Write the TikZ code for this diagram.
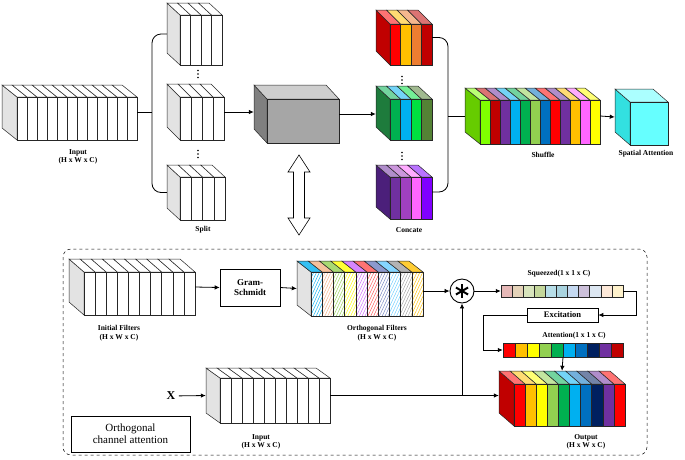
\documentclass[tikz,border=0pt]{standalone}
\usepackage{fontspec}
\setmainfont{Liberation Serif}
\usetikzlibrary{arrows.meta,shapes.arrows,patterns.meta,fit,calc}
\definecolor{cR}{HTML}{FF0000}\definecolor{cO}{HTML}{FFC000}\definecolor{cOr}{HTML}{ED7D31}
\definecolor{cDR}{HTML}{C00000}\definecolor{cG}{HTML}{00B050}\definecolor{cSky}{HTML}{00B0F0}
\definecolor{cBG}{HTML}{00E040}\definecolor{cOl}{HTML}{548235}\definecolor{cDG}{HTML}{1E7B3C}
\definecolor{cP}{HTML}{7030A0}\definecolor{cMP}{HTML}{A040C0}\definecolor{cPk}{HTML}{FF66FF}
\definecolor{cV}{HTML}{8000FF}\definecolor{cDP}{HTML}{4B1F7A}\definecolor{cLime}{HTML}{80FF00}
\definecolor{cLG}{HTML}{92D050}\definecolor{cB}{HTML}{0070C0}\definecolor{cY}{HTML}{FFFF00}
\definecolor{cNv}{HTML}{002060}\definecolor{cCy}{HTML}{66FFFF}\definecolor{cCyS}{HTML}{33E0E0}
\definecolor{cLimeS}{HTML}{66CC00}\definecolor{gbox}{HTML}{A6A6A6}\definecolor{gside}{HTML}{808080}
\definecolor{cSal}{HTML}{F4B183}\definecolor{cVi}{HTML}{CC66FF}\definecolor{cRd}{HTML}{FF5050}
\definecolor{cSl}{HTML}{6F7FC0}\definecolor{cLC}{HTML}{66CCFF}\definecolor{cGr}{HTML}{A0A0A0}
\definecolor{s1}{HTML}{E6B8B7}\definecolor{s2}{HTML}{E4D2B8}\definecolor{s3}{HTML}{D8E4BC}
\definecolor{s4}{HTML}{C4D79B}\definecolor{s5}{HTML}{B7DEE8}\definecolor{s6}{HTML}{A9D3DF}
\definecolor{s7}{HTML}{C5D9F1}\definecolor{s8}{HTML}{CCC0DA}\definecolor{s9}{HTML}{DCE6F1}
\definecolor{s10}{HTML}{FDE9D9}\definecolor{s11}{HTML}{FFF2CC}
% block: name, front-left x, front-top y, front width, height, dx, dy, side colour, colours
\newcommand\blk[9]{%
  \foreach \c [count=\k] in {#9} {\xdef\nn{\k}}%
  \pgfmathsetmacro\ww{#4/\nn}%
  \filldraw[fill=#8,edge] (#2,#3) -- (#2,#3+#5) -- (#2-#6,#3+#5-#7) -- (#2-#6,#3-#7) -- cycle;
  \foreach \c [count=\i from 0] in {#9} {%
    \pgfmathsetmacro\xx{#2+\i*\ww}%
    \filldraw[fill=\c!55!white,edge] (\xx,#3) -- (\xx+\ww,#3) -- (\xx+\ww-#6,#3-#7) -- (\xx-#6,#3-#7) -- cycle;
    \filldraw[fill=\c,edge] (\xx,#3) rectangle (\xx+\ww,#3+#5);
  }%
  \coordinate (#1-a) at (#2-#6,#3-#7); \coordinate (#1-b) at (#2+#4,#3+#5);
  \node[fit=(#1-a)(#1-b),inner sep=0pt] (#1) {};
}
\newcommand\hblk[9]{%
  \foreach \c [count=\k] in {#9} {\xdef\nn{\k}}%
  \pgfmathsetmacro\ww{#4/\nn}%
  \filldraw[fill=#8,edge] (#2,#3) -- (#2,#3+#5) -- (#2-#6,#3+#5-#7) -- (#2-#6,#3-#7) -- cycle;
  \foreach \c [count=\i from 0] in {#9} {%
    \pgfmathsetmacro\xx{#2+\i*\ww}%
    \filldraw[fill=\c!80!white,edge] (\xx,#3) -- (\xx+\ww,#3) -- (\xx+\ww-#6,#3-#7) -- (\xx-#6,#3-#7) -- cycle;
    \fill[white] (\xx,#3) rectangle (\xx+\ww,#3+#5);
    \fill[pattern={Lines[angle=65,distance=2.6pt,line width=0.45pt]},pattern color=\c] (\xx,#3) rectangle (\xx+\ww,#3+#5);
    \draw[edge] (\xx,#3) rectangle (\xx+\ww,#3+#5);
  }%
  \coordinate (#1-a) at (#2-#6,#3-#7); \coordinate (#1-b) at (#2+#4,#3+#5);
  \node[fit=(#1-a)(#1-b),inner sep=0pt] (#1) {};
}
\newcommand\vdts[1]{\foreach \d in {-3.5,0,3.5} \fill ($(#1)+(0,\d)$) circle (0.9pt);}
\begin{document}
\begin{tikzpicture}[x=1pt,y=-1pt,
  edge/.style={draw=black!85,line width=0.5pt},
  lab/.style={font=\fontsize{7.5}{8.5}\selectfont\bfseries,align=center,inner sep=0pt},
  arr/.style={-{Latex[length=5pt,width=4.5pt]},line width=0.8pt},
  ln/.style={line width=0.8pt}]
\useasboundingbox (0,0) rectangle (685,459);
% top row
\blk{inp}{17}{97}{120}{43}{15}{12}{gray!22}{white,white,white,white,white,white,white,white,white,white,white,white}
\blk{sp1}{180}{15}{42}{50}{13}{12}{gray!22}{white,white,white,white}
\blk{sp2}{180}{97}{44}{43}{13}{13}{gray!22}{white,white,white,white}
\blk{sp3}{180}{177}{45}{43}{13}{12}{gray!22}{white,white,white,white}
\blk{gb}{267}{99}{72}{44}{13}{14}{gside}{gbox}
\blk{cr}{390}{24}{42}{41}{14}{14}{cDR}{cR,cO,cOr,cDR}
\blk{cg}{390}{99}{42}{41}{14}{13}{cDG}{cG,cSky,cBG,cOl}
\blk{cp}{390}{177}{42}{42}{14}{12}{cDP}{cP,cMP,cPk,cV}
\blk{sh}{480}{100}{120}{44}{15}{12}{cLimeS}{cLime,cDR,cP,cSky,cG,cLG,cB,cR,cP,cO,cPk,cY}
\blk{sa}{630}{102}{38}{43}{15}{13}{cCyS}{cCy}
\coordinate (d1) at (198,74); \vdts{d1}
\coordinate (d2) at (198,154); \vdts{d2}
\coordinate (d3) at (402,80); \vdts{d3}
\coordinate (d4) at (402,156); \vdts{d4}
\coordinate (lb) at (152,112.5);
\draw[ln] (inp.east) -- (lb);
\draw[ln,rounded corners=9pt] (sp1.west) -| (lb) |- (sp3.west);
\draw[arr] (sp2.east) -- (sp2.east -| gb.west);
\draw[arr] (gb.east) -- (gb.east -| cg.west);
\coordinate (rb) at (448,116);
\draw[ln,rounded corners=9pt] (cr.east) -| (rb) |- (cp.east);
\draw[ln] (rb) -- (sh.west);
\draw[arr] (sh.east) -- (sa.west);
\node[lab] (l1) at (78,157) {Input\\(H x W x C)};
\node[lab] (l2) at (203,230) {Split};
\node[lab] (l3) at (409,230) {Concate};
\node[lab] (l4) at (543,155) {Shuffle};
\node[lab] (l5) at (646,154) {Spatial Attention};
\draw[line width=0.6pt,fill=white] (299,155) -- (310,172) -- (304.5,172) -- (304.5,218) -- (310,218) -- (299,235)
  -- (288,218) -- (293.5,218) -- (293.5,172) -- (288,172) -- cycle;
% bottom panel
\draw[dashed,rounded corners=8pt,line width=0.5pt] (63,249) rectangle (647,455);
\blk{ini}{84}{272}{111}{43}{15}{13}{gray!22}{white,white,white,white,white,white,white,white,white,white}
\node[draw,line width=0.6pt,minimum width=60pt,minimum height=37pt,inner sep=0pt,align=center,font=\fontsize{9}{10}\selectfont\bfseries] (gs) at (250,287.5) {Gram-\\Schmidt};
\hblk{orth}{311}{272}{112}{44}{14}{11}{gray!22}{cSky,cSal,cLG,cY,cVi,cRd,cSl,cLC,cGr,cO}
\node[draw,circle,line width=0.9pt,minimum size=24pt,inner sep=0pt] (mul) at (462,291) {};
\foreach \a in {90,30,-30} \draw[line width=2pt] ($(mul.center)+(\a:7pt)$) -- ($(mul.center)+(\a+180:7pt)$);
\node[draw,line width=0.5pt,minimum width=122pt,minimum height=12pt,inner sep=0pt] (sq) at (562,291) {};
\foreach \c [count=\i from 0] in {s1,s2,s3,s4,s5,s6,s7,s8,s9,s10,s11}
  \filldraw[fill=\c,edge] (501+\i*11.09,285) rectangle (501+\i*11.09+11.09,297);
\node[draw,line width=0.6pt,minimum width=71pt,minimum height=14pt,inner sep=0pt,font=\fontsize{8.5}{9}\selectfont\bfseries] (ex) at (562.5,315) {Excitation};
\node[draw,line width=0.5pt,minimum width=120pt,minimum height=14pt,inner sep=0pt] (att) at (563,350) {};
\foreach \c [count=\i from 0] in {cR,cO,cY,cLG,cG,cSky,cB,cNv,cP,cDR}
  \filldraw[fill=\c,edge] (503+\i*12,343) rectangle (503+\i*12+12,357);
\blk{out}{514}{384}{111}{42}{15}{13}{cDR}{cR,cO,cY,cLG,cG,cSky,cB,cNv,cP,cR}
\blk{inb}{220}{378}{110}{45}{14}{10}{gray!22}{white,white,white,white,white,white,white,white,white,white}
\node[font=\fontsize{12}{12}\selectfont\bfseries] (X) at (171,396) {X};
\draw[arr] (X) -- (inb.west);
\draw[arr] (ini.east) -- (gs.west);
\draw[arr] (gs.east) -- (orth.west);
\draw[arr] (orth.east |- mul) -- (mul.west);
\draw[arr] (mul.east) -- (sq.west);
\draw[arr] (sq.east) -- ++(13,0) |- (ex.east);
\draw[arr] (ex.west) -- ++(-43,0) |- (att.west);
\draw[arr] (att.south) -- (out.north);
\draw[arr] (inb.east) -- (inb.east -| out.west);
\draw[arr] (inb.east -| mul) -- (mul.south);
\node[lab] (l6) at (119,333) {Initial Filters\\(H x W x C)};
\node[lab] (l7) at (377,333) {Orthogonal Filters\\(H x W x C)};
\node[lab] (l8) at (559,274) {Squeezed(1 x 1 x C)};
\node[lab] (l9) at (574,336) {Attention(1 x 1 x C)};
\node[lab] (l10) at (261,442) {Input\\(H x W x C)};
\node[lab] (l11) at (586,442) {Output\\(H x W x C)};
\node[draw,line width=0.5pt,minimum width=119pt,minimum height=36pt,inner sep=0pt,align=center,font=\fontsize{11}{12}\selectfont] (oca) at (130.5,434) {Orthogonal\\channel attention};
\end{tikzpicture}
\end{document}
